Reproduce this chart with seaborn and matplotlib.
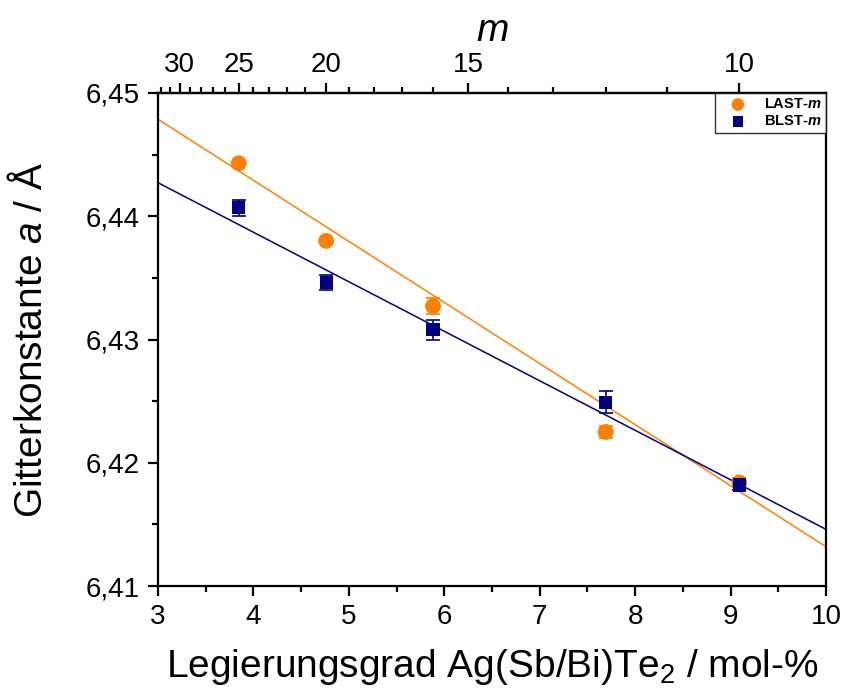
import numpy as np
import pandas as pd
import matplotlib
matplotlib.use("Agg")
import matplotlib.pyplot as plt
from matplotlib.ticker import FuncFormatter, MultipleLocator
import seaborn as sns

# ── Data ──────────────────────────────────────────────────
x_mol = [3.846, 4.762, 5.882, 7.692, 9.091]          # mol-% AgSbTe2 / AgBiTe2

last_a = [6.4443, 6.4380, 6.4327, 6.4225, 6.4184]
last_err = [0.0002, 0.0002, 0.00065, 0.0005, 0.0004]

blst_a = [6.4407, 6.4346, 6.4308, 6.4249, 6.4182]
blst_err = [0.00065, 0.0006, 0.0008, 0.0009, 0.0004]

# linear fits  a = intercept + slope * x
last_fit = (6.46273, -0.004954)
blst_fit = (6.45477, -0.004017)

m_major = [10, 15, 20, 25, 30]
m_minor = [11, 12, 13, 14, 16, 17, 18, 19, 21, 22, 23, 24, 26, 27, 28, 29, 31, 32]

COLORS = {"last": "#FF7F00", "blst": "#000080"}

# ── Style ─────────────────────────────────────────────────
sns.set_style("ticks")
plt.rcParams["font.family"] = ["Liberation Sans", "DejaVu Sans"]
plt.rcParams["mathtext.fontset"] = "custom"
plt.rcParams["mathtext.rm"] = "Liberation Sans"
plt.rcParams["mathtext.it"] = "Liberation Sans:italic"
plt.rcParams["mathtext.bf"] = "Liberation Sans:bold:italic"
for k in ["text.color", "axes.labelcolor", "xtick.color", "ytick.color", "axes.edgecolor"]:
    plt.rcParams[k] = "black"

fig = plt.figure(figsize=(8.45, 6.97), dpi=100)
ax = fig.add_axes([0.187, 0.1592, 0.7905, 0.7074])

# fit lines
x_line = np.array([3.0, 10.0])
for (b0, b1), key in [(last_fit, "last"), (blst_fit, "blst")]:
    sns.lineplot(x=x_line, y=b0 + b1 * x_line, ax=ax, color=COLORS[key],
                 linewidth=1.1, zorder=2)

series = [
    ("LAST-$\\mathbf{m}$", last_a, last_err, "last", "o", 130),
    ("BLST-$\\mathbf{m}$", blst_a, blst_err, "blst", "s", 90),
]
for label, a, err, key, marker, size in series:
    ax.errorbar(x_mol, a, yerr=err, fmt="none", ecolor=COLORS[key],
                elinewidth=1.2, capsize=5, capthick=1.2, zorder=3)
    sns.scatterplot(x=x_mol, y=a, color=COLORS[key], marker=marker, s=size,
                    edgecolor="none", linewidth=0, ax=ax, zorder=4, label=label)

ax.set_xlim(3, 10)
ax.set_ylim(6.41, 6.45)
ax.xaxis.set_major_locator(MultipleLocator(1))
ax.xaxis.set_minor_locator(MultipleLocator(0.5))
ax.yaxis.set_major_locator(MultipleLocator(0.01))
ax.yaxis.set_minor_locator(MultipleLocator(0.005))
ax.yaxis.set_major_formatter(FuncFormatter(lambda v, p: f"{v:.2f}".replace(".", ",")))

for s in ax.spines.values():
    s.set_linewidth(1.6)
    s.set_visible(True)
ax.tick_params(which="major", length=7, width=1.6, labelsize=20, pad=6,
               top=False, right=False)
ax.tick_params(which="minor", length=4, width=1.6, top=False, right=False)

ax.set_xlabel("Legierungsgrad Ag(Sb/Bi)Te$_2$ / mol-%", fontsize=28, labelpad=12)
ax.set_ylabel("Gitterkonstante $a$ / Å", fontsize=28, labelpad=26)

# top axis: m, with x = 100 / (m + 1)
secax = ax.secondary_xaxis("top", functions=(lambda x: 100.0 / np.asarray(x) - 1,
                                             lambda m: 100.0 / (np.asarray(m) + 1)))
secax.set_xticks(m_major)
secax.set_xticks(m_minor, minor=True)
secax.set_xticklabels([str(m) for m in m_major])
secax.tick_params(which="major", length=7, width=1.6, labelsize=20, pad=4)
secax.tick_params(which="minor", length=4, width=1.6)
secax.spines["top"].set_linewidth(1.6)
secax.set_xlabel("$m$", fontsize=28, labelpad=8)

leg = ax.legend(loc="upper right", borderaxespad=0, frameon=True, fancybox=False,
                prop={"size": 10.5, "weight": "bold"}, handletextpad=0.5,
                borderpad=0.3, markerscale=0.8, labelspacing=0.2,
                handlelength=2.6)
leg.get_frame().set_edgecolor("black")
leg.get_frame().set_linewidth(1.0)

fig.savefig("out.png", dpi=100)
